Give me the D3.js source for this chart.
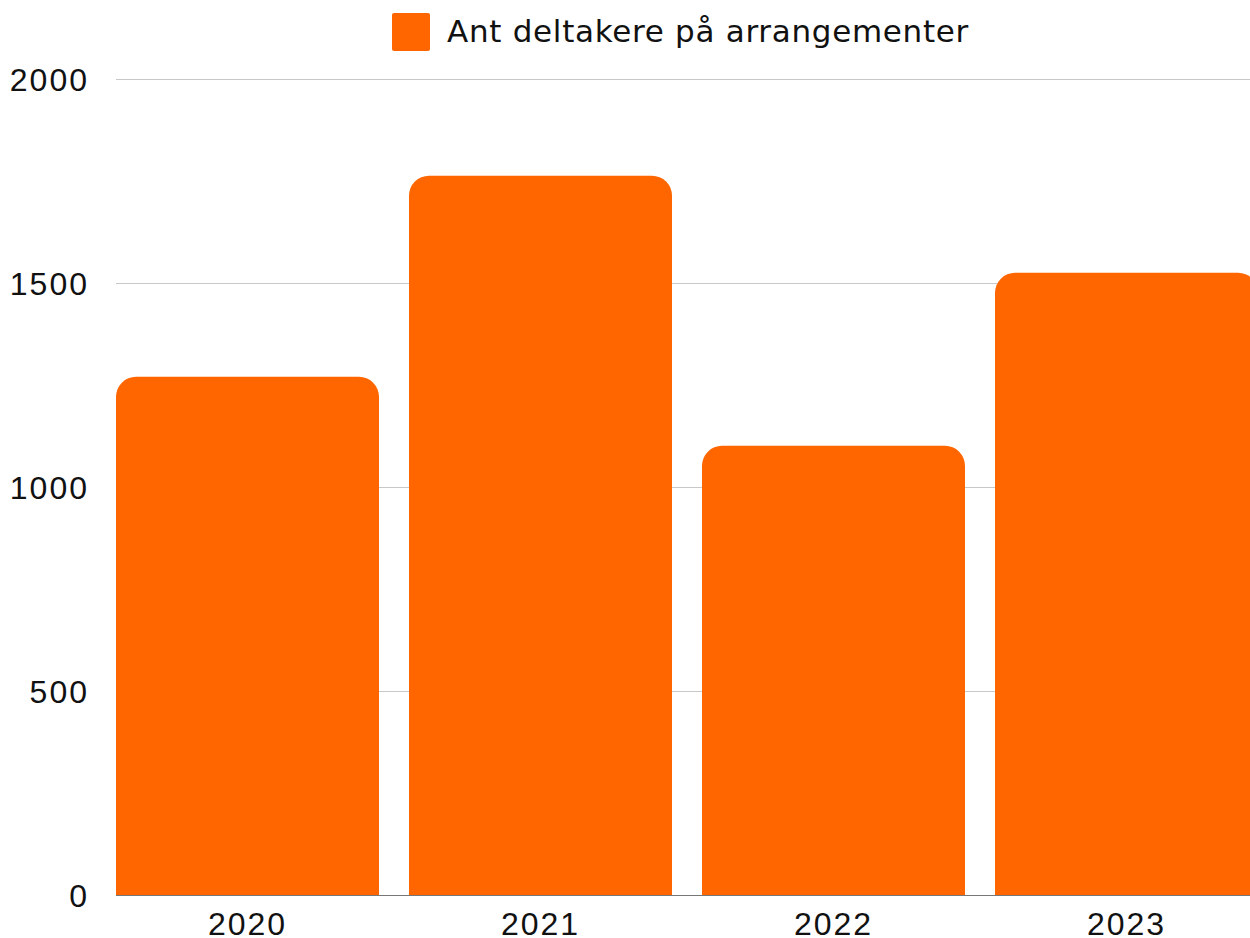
<!DOCTYPE html>
<html>
  <head>
    <meta charset="utf-8">
    <title>Ant deltakere</title>
    <style>
      body { margin: 0; background: #fff; }
      svg { display: block; font-family: "DejaVu Sans", sans-serif; }
      .grid line { stroke: #c8c8c8; stroke-width: 1; }
      .tick text { fill: #111; }
    </style>
    <script src="https://cdn.jsdelivr.net/npm/d3@7"></script>
  </head>
  <body>
    <svg id="chart" width="1250" height="938"></svg>
    <script>
      var years = ["2020", "2021", "2022", "2023"];
      var deltakere = [1270, 1763, 1101, 1525];
      var yTicks = [0, 500, 1000, 1500, 2000];
      var seriesName = "Ant deltakere på arrangementer";

      var svg = d3.select("#chart");
      var plotLeft = 116, plotTop = 79, plotBottom = 895;

      var x = d3.scaleBand()
                .domain(years)
                .range([plotLeft, 1258])
                .paddingInner(0.1024)
                .paddingOuter(0);

      var y = d3.scaleLinear()
                .domain([0, 2000])
                .range([plotBottom, plotTop]);

      // gridlines
      svg.append("g")
         .attr("class", "grid")
         .selectAll("line")
         .data(yTicks.slice(1))
         .enter()
         .append("line")
         .attr("x1", plotLeft)
         .attr("x2", 1250)
         .attr("y1", function(d) { return y(d) + 0.5; })
         .attr("y2", function(d) { return y(d) + 0.5; });

      // bars with rounded top corners
      var r = 20;
      function barPath(d, i) {
        var x0 = x(years[i]), w = x.bandwidth();
        var yt = y(d), yb = y(0);
        return "M" + x0 + "," + yb +
               "V" + (yt + r) +
               "A" + r + "," + r + " 0 0 1 " + (x0 + r) + "," + yt +
               "H" + (x0 + w - r) +
               "A" + r + "," + r + " 0 0 1 " + (x0 + w) + "," + (yt + r) +
               "V" + yb + "Z";
      }

      svg.append("g")
         .selectAll("path")
         .data(deltakere)
         .enter()
         .append("path")
         .attr("d", barPath)
         .attr("fill", "#ff6600");

      // baseline
      svg.append("line")
         .attr("x1", plotLeft)
         .attr("x2", 1250)
         .attr("y1", plotBottom + 0.5)
         .attr("y2", plotBottom + 0.5)
         .attr("stroke", "#777");

      // y axis labels
      var yAxis = d3.axisLeft(y)
                    .tickValues(yTicks)
                    .tickFormat(d3.format("d"))
                    .tickSize(0)
                    .tickPadding(0);
      svg.append("g")
         .attr("transform", "translate(89,0)")
         .call(yAxis)
         .call(function(g) { g.select(".domain").remove(); })
         .selectAll("text")
         .attr("font-size", 32)
         .attr("letter-spacing", 2)
         .attr("dy", "0.36em");

      // x axis labels
      var xAxis = d3.axisBottom(x).tickSize(0).tickPadding(0);
      svg.append("g")
         .attr("transform", "translate(0,912)")
         .call(xAxis)
         .call(function(g) { g.select(".domain").remove(); })
         .selectAll("text")
         .attr("font-size", 32)
         .attr("letter-spacing", 2)
         .attr("dy", "0.72em");

      // legend
      var legend = svg.append("g");
      legend.append("rect")
            .attr("x", 392)
            .attr("y", 13)
            .attr("width", 38)
            .attr("height", 38)
            .attr("rx", 2)
            .attr("fill", "#ff6600");
      legend.append("text")
            .attr("x", 447)
            .attr("y", 42)
            .attr("font-size", 31)
            .attr("letter-spacing", 0.7)
            .attr("fill", "#111")
            .text(seriesName);
    </script>
  </body>
</html>
